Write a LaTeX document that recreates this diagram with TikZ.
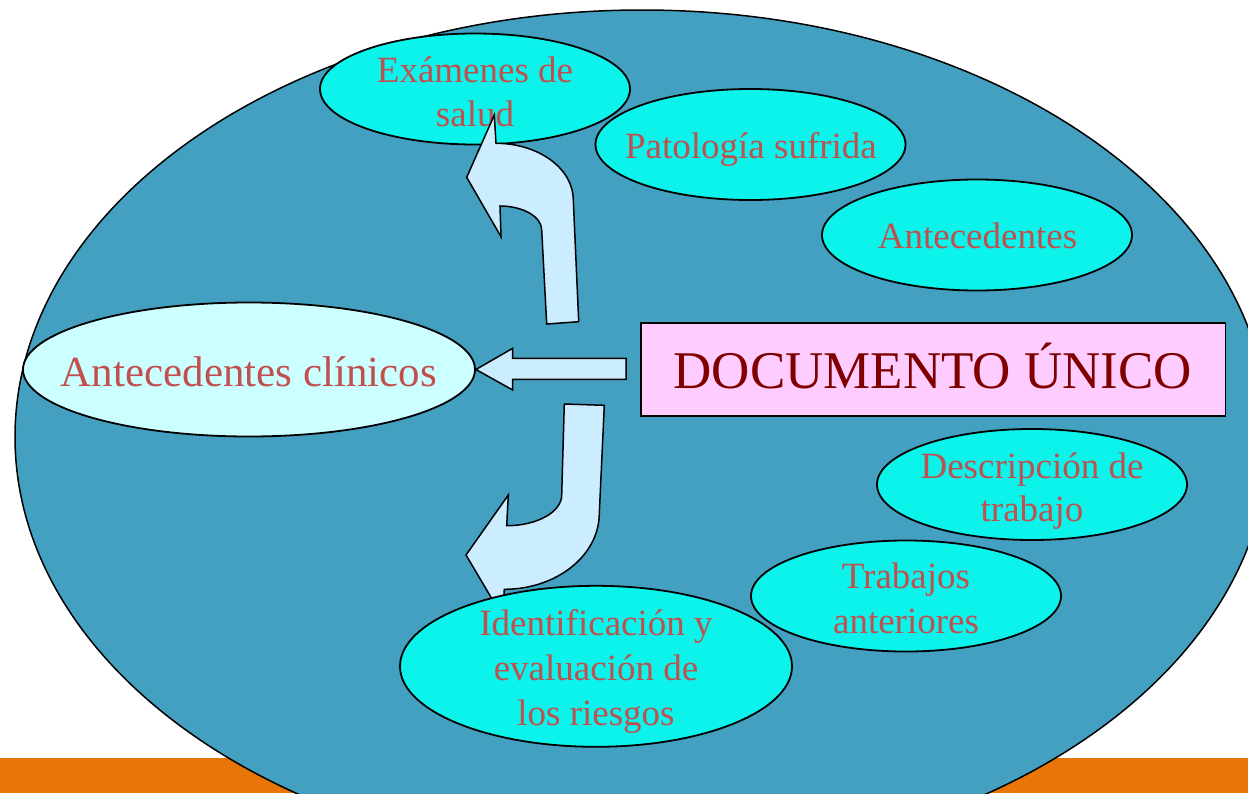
\documentclass[tikz,border=0pt]{standalone}
\usepackage{fontspec}
\setmainfont{Liberation Serif}
\usetikzlibrary{shapes.geometric}
\definecolor{bigblue}{RGB}{67,160,192}
\definecolor{orangebar}{RGB}{232,117,8}
\definecolor{cyanfill}{RGB}{12,243,236}
\definecolor{palecyan}{RGB}{204,255,255}
\definecolor{pinkfill}{RGB}{255,204,255}
\definecolor{arrowfill}{RGB}{204,236,255}
\definecolor{textred}{RGB}{192,80,77}
\definecolor{docred}{RGB}{128,0,0}
\tikzset{
  smallell/.style={ellipse, draw=black, line width=1.8pt, fill=cyanfill, inner sep=0pt,
    minimum width=310pt, minimum height=111pt},
  etext/.style={text=textred, font=\fontsize{37}{44}\selectfont, anchor=base, inner sep=0pt},
  blockarrow/.style={draw=black, line width=1.5pt, fill=arrowfill, line join=miter},
}
\begin{document}
\begin{tikzpicture}[x=1pt,y=-1pt]
\useasboundingbox (0,0) rectangle (1248,793);
\clip (0,0) rectangle (1248,793);
\fill[white] (0,0) rectangle (1248,793);
% orange bar
\fill[orangebar] (0,758) rectangle (1248,793);
% big ellipse
\draw[fill=bigblue, line width=1.5pt] (642,437) ellipse [x radius=627pt, y radius=427pt];

% small ellipses
\node[smallell] (exam) at (475,89) {};
\node[etext] (examA) at (475,82) {Exámenes de};
\node[etext] (examB) at (475,126) {salud};

\node[smallell] (pato) at (750.5,144.5) {};
\node[etext] (patoA) at (751,158) {Patología sufrida};

\node[smallell] (ante) at (977,235) {};
\node[etext] (anteA) at (977.5,248) {Antecedentes};

\node[smallell] (desc) at (1032,484.5) {};
\node[etext] (descA) at (1032,478) {Descripción de};
\node[etext] (descB) at (1032,521) {trabajo};

\node[smallell] (trab) at (906,596) {};
\node[etext] (trabA) at (906,588) {Trabajos};
\node[etext] (trabB) at (906,633) {anteriores};

% clinical antecedents
\node[ellipse, draw=black, line width=1.8pt, fill=palecyan, inner sep=0pt,
  minimum width=452pt, minimum height=134pt] (clin) at (249,369.5) {};
\node[text=textred, font=\fontsize{43}{50}\selectfont, anchor=base, inner sep=0pt]
  (clinA) at (249,386) {Antecedentes clínicos};

% document box
\node[rectangle, draw=black, line width=1.8pt, fill=pinkfill, inner sep=0pt,
  minimum width=584.5pt, minimum height=92.7pt] (doc) at (933.2,369.3) {};
\node[text=docred, font=\fontsize{53}{60}\selectfont, anchor=base, inner sep=0pt]
  (docA) at (933,388.3) {DOCUMENTO ÚNICO};

% lower curved arrow (under the identification ellipse)
\draw[blockarrow] (564.3,404) -- (604.3,405.3) -- (599.3,513.3)
  .. controls (599.3,555.3) and (556.8,589.3) .. (504.3,589.3)
  -- (502.7,617) -- (466,555) -- (508.3,495) -- (506.7,525.7)
  .. controls (537,525.7) and (561.7,512) .. (561.7,495) -- cycle;

% identification ellipse
\node[ellipse, draw=black, line width=1.8pt, fill=cyanfill, inner sep=0pt,
  minimum width=392pt, minimum height=161pt] (iden) at (596,666.3) {};
\node[etext] (idenA) at (596,635) {Identificación y};
\node[etext] (idenB) at (596,680) {evaluación de};
\node[etext] (idenC) at (596,725) {los riesgos};

% upper curved arrow
\draw[blockarrow] (546.7,324) -- (578.7,321.7) -- (573.3,200)
  .. controls (573.3,168.7) and (538.7,143.3) .. (496,143.3)
  -- (494.3,115) -- (466.7,177.3) -- (501,236.7) -- (500,206)
  .. controls (523,206) and (541.7,216.8) .. (541.7,230) -- cycle;

% straight arrow from the document box to the clinical ellipse
\coordinate (ltail) at (626,368.8);
\draw[blockarrow] (clin.east) -- (512.7,348.3) -- (512.7,358.3) -- (ltail |- 0,358.3)
  -- (ltail |- 0,379.3) -- (512.7,379.3) -- (512.7,390) -- cycle;
\end{tikzpicture}
\end{document}
